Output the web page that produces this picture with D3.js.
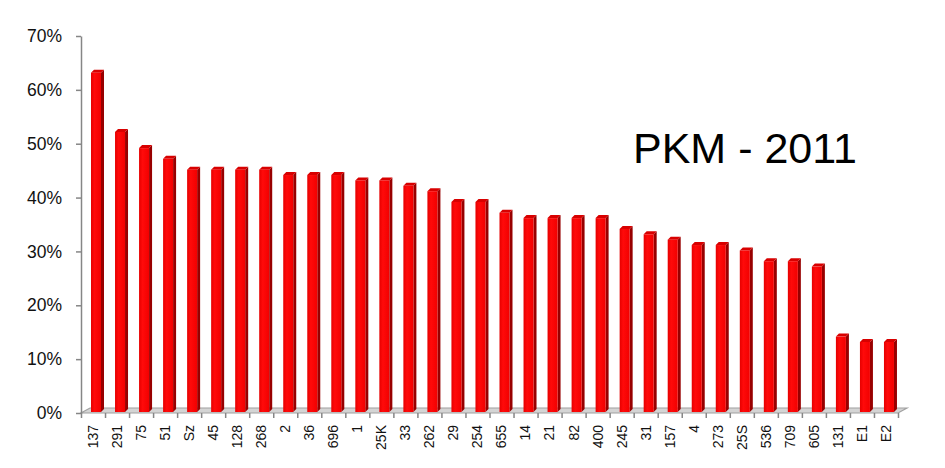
<!DOCTYPE html>
<html>
<head>
<meta charset="utf-8">
<script src="https://cdn.jsdelivr.net/npm/d3@7"></script>
<style>
  body { margin: 0; background: #fff; }
  svg { display: block; }
</style>
</head>
<body>
<svg id="chart"></svg>
<script>
const categories = ['137', '291', '75', '51', 'Sz', '45', '128', '268', '2', '36', '696', '1', '25K', '33', '262', '29',
  '254', '655', '14', '21', '82', '400', '245', '31', '157', '4', '273', '25S', '536', '709', '605', '131', 'E1', 'E2'];
const values = [0.63, 0.52, 0.49, 0.47, 0.45, 0.45, 0.45, 0.45, 0.44, 0.44, 0.44, 0.43, 0.43, 0.42, 0.41, 0.39,
  0.39, 0.37, 0.36, 0.36, 0.36, 0.36, 0.34, 0.33, 0.32, 0.31, 0.31, 0.30, 0.28, 0.28, 0.27, 0.14, 0.13, 0.13];
const yTicks = [0, 0.1, 0.2, 0.3, 0.4, 0.5, 0.6, 0.7];
const title = 'PKM - 2011';

const W = 945, H = 468;
const plotLeft = 81, plotRight = 898, plotBottom = 413, plotTop = 36;
const depth = { dx: 9, dy: -5 };   // floor depth
const barD = 3;                      // bar depth

const svg = d3.select('#chart').attr('width', W).attr('height', H);

const x = d3.scaleBand().domain(categories).range([plotLeft, plotRight]).padding(0);
const xi = d3.scaleLinear().domain([0, categories.length]).range([plotLeft, plotRight]);
const y = d3.scaleLinear().domain([0, 0.7]).range([plotBottom, plotTop]);

// floor
svg.append('path')
  .attr('d', `M${plotLeft},${plotBottom} L${plotRight},${plotBottom} L${plotRight + depth.dx},${plotBottom + depth.dy} L${plotLeft + depth.dx},${plotBottom + depth.dy} Z`)
  .attr('fill', '#d4d4d4')
  .attr('stroke', '#a0a0a0')
  .attr('stroke-width', 1.2);

const grad = svg.append('defs').append('linearGradient')
  .attr('id', 'front').attr('x1', '0%').attr('x2', '100%').attr('y1', '0%').attr('y2', '0%');
grad.append('stop').attr('offset', '0%').attr('stop-color', '#e60000');
grad.append('stop').attr('offset', '35%').attr('stop-color', '#ff0a0a');
grad.append('stop').attr('offset', '100%').attr('stop-color', '#f20000');

// bars
const bw = 10;
const bars = svg.append('g').selectAll('g.bar')
  .data(categories.map((c, i) => ({ c, v: values[i] })))
  .enter().append('g').attr('class', 'bar');

const fx = d => x(d.c) + 10;
const fTop = d => y(d.v) - 1;
const fBot = y(0) - 1;

bars.append('path')
  .attr('d', d => `M${fx(d) + bw},${fTop(d)} L${fx(d) + bw + barD},${fTop(d) - barD} L${fx(d) + bw + barD},${fBot - barD} L${fx(d) + bw},${fBot} Z`)
  .attr('fill', '#980000');

bars.append('path')
  .attr('d', d => `M${fx(d)},${fTop(d)} L${fx(d) + barD},${fTop(d) - barD} L${fx(d) + bw + barD},${fTop(d) - barD} L${fx(d) + bw},${fTop(d)} Z`)
  .attr('fill', '#d80000');

bars.append('rect')
  .attr('x', fx)
  .attr('y', fTop)
  .attr('width', bw)
  .attr('height', d => fBot - fTop(d))
  .attr('fill', 'url(#front)');

// y axis
const yAxis = svg.append('g')
  .attr('transform', `translate(${plotLeft},0)`)
  .call(d3.axisLeft(y).tickValues(yTicks).tickFormat(d3.format('.0%')).tickSize(5).tickSizeOuter(0).tickPadding(14));
yAxis.select('.domain').attr('stroke', '#868686').attr('stroke-width', 1.5);
yAxis.selectAll('.tick line').attr('stroke', '#868686').attr('stroke-width', 1.5);
yAxis.selectAll('.tick text')
  .attr('font-family', 'Liberation Sans, Arial, sans-serif')
  .attr('font-size', 17.5)
  .attr('fill', '#111');

// x axis boundary ticks
const xTickAxis = svg.append('g')
  .attr('transform', `translate(0,${plotBottom})`)
  .call(d3.axisBottom(xi).tickValues(d3.range(0, categories.length + 1)).tickFormat('').tickSize(5).tickSizeOuter(0));
xTickAxis.select('.domain').remove();
xTickAxis.selectAll('.tick line').attr('stroke', '#868686').attr('stroke-width', 1.5);

// x labels
const xAxis = svg.append('g')
  .attr('transform', `translate(0,${plotBottom})`)
  .call(d3.axisBottom(x).tickSize(0).tickSizeOuter(0));
xAxis.select('.domain').remove();
xAxis.selectAll('.tick text')
  .attr('font-family', 'Liberation Sans, Arial, sans-serif')
  .attr('font-size', 14)
  .attr('fill', '#111')
  .attr('text-anchor', 'end')
  .attr('transform', 'rotate(-90)')
  .attr('x', -12)
  .attr('y', 0)
  .attr('dy', '0.35em');

// title
svg.append('text')
  .attr('x', 633)
  .attr('y', 163)
  .attr('font-family', 'Liberation Sans, Arial, sans-serif')
  .attr('font-size', 43)
  .attr('fill', '#000')
  .text(title);
</script>
</body>
</html>
